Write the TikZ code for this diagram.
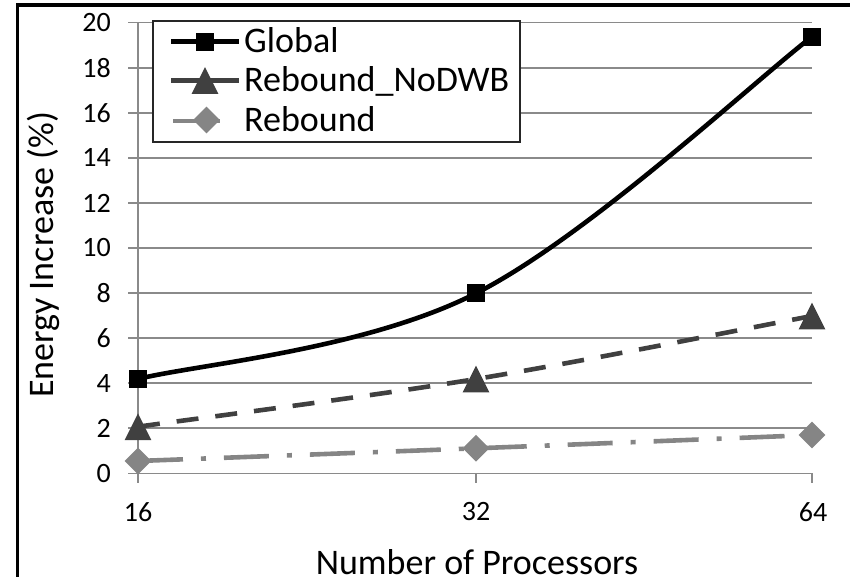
\documentclass[tikz,border=0pt]{standalone}
\usepackage{fontspec}
\setmainfont{Carlito}
\usetikzlibrary{shapes.geometric}
\definecolor{gridgray}{HTML}{8A8A8A}
\definecolor{seriesA}{HTML}{000000}
\definecolor{seriesB}{HTML}{404040}
\definecolor{seriesC}{HTML}{858585}
\newcommand\axnumfont{\fontsize{28}{32}\selectfont}
\newcommand\captfont{\fontsize{36}{42}\selectfont}
\begin{document}
\begin{tikzpicture}[x=1pt,y=-1pt,
  gridline/.style={draw=gridgray,line width=1.6pt},
  globalline/.style={draw=seriesA,line width=4.6pt},
  nodwbline/.style={draw=seriesB,line width=4.6pt,dash pattern=on 22pt off 17pt},
  reboundline/.style={draw=seriesC,line width=4.6pt,dash pattern=on 45pt off 18pt on 5pt off 18pt},
  sqmark/.style={rectangle,fill=seriesA,minimum size=18pt,inner sep=0pt},
  dmmark/.style={diamond,fill=seriesC,minimum width=27pt,minimum height=27pt,inner sep=0pt},
  trimark/.pic={\fill[seriesB] (-13.4,13.4) -- (13.4,13.4) -- (0,-13.4) -- cycle;},
  ticklabel/.style={inner sep=0pt,font=\axnumfont},
  legendtext/.style={inner sep=0pt,anchor=base west,font=\captfont},
]
\useasboundingbox (0,0) rectangle (850,577);

% frame edges
\fill[black] (16,2.7) rectangle (850,7.3);
\fill[black] (16,2.7) rectangle (19.3,577);

% horizontal grid and y labels
\foreach \v in {0,2,...,20} {
  \pgfmathsetmacro\yy{473.3-22.53*\v}
  \draw[gridline] (128,\yy) -- (812,\yy);
  \node[ticklabel,anchor=east] (ylab\v) at (111,\yy) {\v};
}
% y axis and x ticks
\draw[gridline] (138,22.7) -- (138,483);
\draw[gridline] (476,473.3) -- (476,483);
\draw[gridline] (812,473.3) -- (812,483);

% x labels
\node[ticklabel] (x16) at (138,512) {16};
\node[ticklabel] (x32) at (476,512) {32};
\node[ticklabel] (x64) at (813,512) {64};

% axis titles
\node[inner sep=0pt,text depth=0pt,anchor=base,font=\captfont] (xtitle) at (477,574) {Number of Processors};
\node[inner sep=0pt,anchor=base,rotate=90,font=\captfont] (ytitle) at (53,255) {Energy Increase (\%)};

% data points
\coordinate (g16) at (138,379);
\coordinate (g32) at (476,293.3);
\coordinate (g64) at (812,36.7);
\coordinate (n16) at (138,426.7);
\coordinate (n32) at (476,379);
\coordinate (n64) at (812,316);
\coordinate (r16) at (138,461);
\coordinate (r32) at (476,448.3);
\coordinate (r64) at (812,435);

% series curves
\draw[reboundline] (r16) .. controls (194.3,458.9) and (363.7,452.6) .. (r32)
  .. controls (588.3,444) and (756,437.2) .. (r64);
\draw[nodwbline] (n16) .. controls (194.3,418.75) and (363.7,397.45) .. (n32)
  .. controls (588.3,360.55) and (756,326.5) .. (n64);
\draw[globalline] (g16) .. controls (194.3,364.7) and (363.7,350.4) .. (g32)
  .. controls (588.3,236.3) and (756,79.5) .. (g64);

% markers
\foreach \p in {r16,r32,r64} { \node[dmmark] at (\p) {}; }
\foreach \p in {n16,n32,n64} { \pic at (\p) {trimark}; }
\foreach \p in {g16,g32,g64} { \node[sqmark] at (\p) {}; }

% legend
\draw[draw=black!85,line width=1.8pt,fill=white] (153,20.7) rectangle (520,141.7);
\coordinate (lgA) at (171,41.7);  \coordinate (lgAe) at (239,41.7);
\coordinate (lgB) at (171,80.5);  \coordinate (lgBe) at (239,80.5);
\coordinate (lgC) at (173,121);   \coordinate (lgCe) at (220,121);
\draw[draw=seriesA,line width=4.6pt] (lgA) -- (lgAe);
\draw[draw=seriesB,line width=4.6pt] (lgB) -- (lgBe);
\draw[draw=seriesC,line width=4.6pt] (lgC) -- (lgCe);
\node[sqmark] at (204.5,41.7) {};
\pic at (205,80.5) {trimark};
\node[dmmark] at (206.5,120) {};
\node[legendtext] (tA) at (244,52.7) {Global};
\node[legendtext] (tB) at (244,91.7) {Rebound\_NoDWB};
\node[legendtext] (tC) at (244,131.7) {Rebound};
\end{tikzpicture}
\end{document}
